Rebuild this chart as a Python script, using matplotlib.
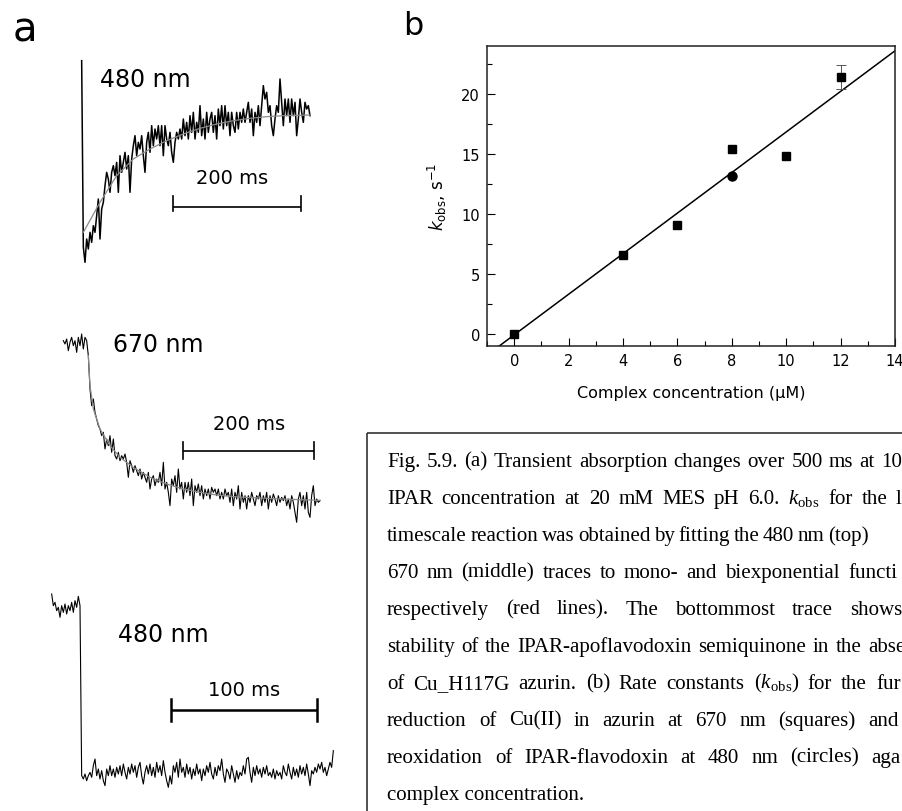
import matplotlib
matplotlib.use("Agg")
import matplotlib.pyplot as plt
from matplotlib.patches import Rectangle
from matplotlib.ticker import MultipleLocator

W, H = 903, 812

plt.rcParams['font.family'] = ['DejaVu Sans']
plt.rcParams['mathtext.fontset'] = 'custom'
plt.rcParams['mathtext.rm'] = 'Liberation Serif'
plt.rcParams['mathtext.it'] = 'Liberation Serif:italic'

# ---- panel b : kobs vs complex concentration ----
conc_sq = [0, 4, 6, 8, 10, 12]
kobs_sq = [0.0, 6.6, 9.1, 15.4, 14.8, 21.4]
kobs_err = [0, 0, 0, 0, 0, 1.0]
conc_circ = [8]
kobs_circ = [13.2]
fit_conc = [-0.55, 14.0]
fit_kobs = [-1.0, 23.6]

# ---- panel a : transient traces (signal in arbitrary units, one sample per ~1.7 px) ----
trace_480_top = [
    61.5, 5.5, 1.0, 8.0, 5.0, 10.0, 7.0, 12.0, 10.0, 15.0,
    20.0, 8.0, 17.0, 19.0, 24.0, 28.0, 26.0, 22.0, 28.0, 30.0,
    27.0, 31.0, 22.0, 33.0, 28.0, 31.0, 34.0, 29.0, 33.0, 22.0,
    32.0, 36.0, 39.0, 33.0, 37.0, 35.0, 39.0, 33.0, 28.0, 37.0,
    40.0, 34.0, 42.0, 36.0, 41.0, 38.0, 42.0, 36.0, 42.0, 33.0,
    42.0, 38.0, 36.0, 40.0, 34.0, 31.0, 37.0, 40.0, 38.0, 41.0,
    38.0, 44.0, 39.0, 43.0, 38.0, 45.0, 40.0, 46.0, 38.0, 43.0,
    40.0, 48.0, 39.0, 44.0, 38.0, 46.0, 40.0, 44.0, 46.0, 40.0,
    45.0, 38.0, 47.0, 42.0, 48.0, 41.0, 48.0, 42.0, 46.0, 39.0,
    46.0, 42.0, 40.0, 46.0, 41.0, 46.0, 43.0, 47.0, 43.0, 46.0,
    49.0, 43.0, 47.0, 39.0, 46.0, 43.0, 48.0, 42.0, 48.0, 54.0,
    50.0, 52.0, 46.0, 48.0, 42.0, 39.0, 44.0, 48.0, 46.0, 56.0,
    49.0, 42.0, 50.0, 45.0, 50.0, 43.0, 50.0, 45.0, 49.0, 39.0,
    44.0, 50.0, 46.0, 43.0, 49.0, 47.0, 48.0, 45.0]
fit_top_idx = [1, 11, 21, 31, 41, 51, 61, 71, 81, 91, 101, 111, 121, 137]
fit_top = [10, 19, 27, 32, 35, 37.5, 39.5, 41.2, 42.5, 43.5, 44.2, 44.7, 45.0, 45.2]
ms_per_sample_top = 2.6

trace_670 = [
    61.5, 60.5, 62, 58.5, 61, 62.5, 60, 61.5, 58, 62.5,
    60, 63.5, 59, 62.5, 61.5, 57, 47, 42, 44, 40,
    38, 36, 35, 33, 34, 29, 32, 30, 33, 28,
    32, 27, 26, 28, 25.5, 27, 26, 27.5, 25, 20.5,
    25.5, 24, 22, 24, 22.5, 21, 23, 20, 22, 20.5,
    19, 22, 17, 20, 21, 18, 20, 19, 22, 18,
    25, 17, 19, 16, 12, 20, 18, 21, 16, 23,
    17, 19, 14, 19, 16, 19, 15, 20, 12, 18,
    16, 18.5, 15, 18, 14, 17, 15, 17, 14, 17.5,
    16, 17, 15, 17, 14, 16, 14, 17, 15, 16,
    13, 17, 12, 16, 14, 18, 11, 16, 13, 15,
    11, 15, 13, 16, 14, 12, 15, 14, 16, 12,
    15, 13, 16, 11, 15, 13, 15.5, 14, 12, 15,
    13, 14.5, 13.5, 15, 12, 14, 11, 15, 13, 10,
    7, 14, 16, 12, 15, 11, 16, 10, 8.5, 15,
    18, 12, 14, 13, 13.5]
fit_670_idx = [15, 16, 18, 22, 28, 34, 42, 52, 62, 72, 82, 92, 102, 122, 142, 154]
fit_670 = [57, 48, 41, 35, 30, 26.5, 23.5, 20.5, 18.5, 17, 16, 15.2, 14.7, 14.2, 13.8, 13.6]
ms_per_sample_670 = 2.55

trace_480_bottom = [
    57.5, 54, 55, 52.5, 53.5, 50.5, 54, 52, 54.5, 51.5,
    54, 52.5, 55, 52, 55.5, 53.5, 56.8, 54, 3, 2,
    3.5, 1.5, 3, 4, 2.5, 6, 8, 3, 5, 2,
    4.5, 1.5, 0, 5, 3, 6, 3, 5, 2.5, 5.5,
    3.5, 6, 3, 6.5, 4, 2, 5.5, 3.5, 6.5, 4,
    6, 2.5, 5.5, 7, 3, 0.5, 4, 6, 3.5, 6.5,
    3, 5.5, 2.5, 7, 4, 6, 3, 7.5, 4, 1.5,
    -0.5, 3, 0.5, 6, 4, 7, 2.5, 8, 4, 5.5,
    2.5, 6.5, 3.5, 5.5, 2, 5, 3, 6.5, 3.5, 5,
    1.5, 5, 3, 6, 4, 7, 3.5, 2, 5.5, 3,
    6, 4.5, 8, 3.5, 1, 5, 4, 2, 6, 3.5,
    1, 4.5, 2, 4, 3, 6, 3.5, 8, 8.5, 4,
    1, 5.5, 3, 6, 3.5, 5, 2.5, 5.5, 3.5, 6,
    3, 4, 2.5, 5, 2, 4.5, 3, 4, 2, 6,
    4, 3, 6.5, 4, 2, 5.5, 3, 5, 2.5, 6,
    3.5, 5.5, 3, 6.5, 3.5, 0, 4.5, 3.5, 5.5, 4,
    6.5, 5, 7, 4, 5.5, 3, 5, 7, 5.5, 10.5]
ms_per_sample_bottom = 1.14

caption_lines = [
    "Fig. 5.9. (a) Transient absorption changes over 500 ms at 10",
    r"IPAR concentration at 20 mM MES pH 6.0. $k_{\mathrm{obs}}$ for the l",
    "timescale reaction was obtained by fitting the 480 nm (top)",
    "670 nm (middle) traces to mono- and biexponential functi",
    "respectively (red lines). The bottommost trace shows",
    "stability of the IPAR-apoflavodoxin semiquinone in the abse",
    r"of Cu_H117G azurin. (b) Rate constants ($k_{\mathrm{obs}}$) for the fur",
    "reduction of Cu(II) in azurin at 670 nm (squares) and",
    "reoxidation of IPAR-flavodoxin at 480 nm (circles) aga",
    "complex concentration.",
]
# x (px) where the last visible word of each justified line starts
caption_last_x = [881, 896, 828, 848, 850, 868, 876, 868, 871, None]

fig = plt.figure(figsize=(W / 100, H / 100), dpi=100)


def px_axes(left, right, top, bottom):
    return fig.add_axes([left / W, 1 - bottom / H, (right - left) / W, (bottom - top) / H])


def trace_axes(x0, y0, xlim, ylim, sx=5 / 3, sy=10 / 3):
    ax = px_axes(x0 + sx * xlim[0], x0 + sx * xlim[1], y0 - sy * ylim[1], y0 - sy * ylim[0])
    ax.set_xlim(xlim)
    ax.set_ylim(ylim)
    ax.axis('off')
    return ax


def scale_bar(ax, x_start, length, y, tick_lo, tick_hi, label, lx, ly, lw=1.2):
    x_end = x_start + length
    ax.plot([x_start, x_end], [y, y], color='black', lw=lw, solid_capstyle='butt')
    ax.plot([x_start, x_start], [tick_lo, tick_hi], color='black', lw=lw)
    ax.plot([x_end, x_end], [tick_lo, tick_hi], color='black', lw=lw)
    ax.text(lx, ly, label, fontsize=14, ha='center', va='center')


# top 480 nm trace
ax1 = trace_axes(245 / 3, 800 / 3, (-15, 165), (-5, 70))
ax1.plot(trace_480_top, color='black', lw=1.1)
ax1.plot(fit_top_idx, fit_top, color='#8a8a8a', lw=0.9)
ax1.text(11, 56, '480 nm', fontsize=17, va='center')
scale_bar(ax1, 54.6, 200 / ms_per_sample_top, 17.5, 16.5, 21, '200 ms', 90, 26.5)

# 670 nm trace
ax2 = trace_axes(190 / 3, 280 + 800 / 3, (-10, 165), (-5, 70))
ax2.plot(trace_670, color='black', lw=0.8)
ax2.plot(fit_670_idx, fit_670, color='#8a8a8a', lw=0.9)
ax2.text(30, 60.5, '670 nm', fontsize=17, va='center')
scale_bar(ax2, 72, 200 / ms_per_sample_670, 28.5, 26, 31, '200 ms', 111.6, 36.5)

# bottom 480 nm trace
ax3 = trace_axes(155 / 3, 520 + 800 / 3, (-10, 180), (-5, 70))
ax3.plot(trace_480_bottom, color='black', lw=0.8)
ax3.text(40, 45.5, '480 nm', fontsize=17, va='center')
scale_bar(ax3, 71.4, 100 / ms_per_sample_bottom, 22.8, 19.5, 26, '100 ms', 115.6, 28.8, lw=1.8)

# panel b
axb = px_axes(487, 895, 47, 347)
axb.plot(fit_conc, fit_kobs, color='black', lw=1.1)
axb.errorbar(conc_sq[5:], kobs_sq[5:], yerr=kobs_err[5:], fmt='none', ecolor='#555555',
             elinewidth=0.7, capsize=3.5, capthick=0.7)
axb.plot(conc_sq, kobs_sq, 's', color='black', ms=6)
axb.plot(conc_circ, kobs_circ, 'o', color='black', ms=6.5)
axb.set_xlim(-1, 14)
axb.set_ylim(-1, 24)
axb.xaxis.set_major_locator(MultipleLocator(2))
axb.xaxis.set_minor_locator(MultipleLocator(1))
axb.yaxis.set_major_locator(MultipleLocator(5))
axb.yaxis.set_minor_locator(MultipleLocator(2.5))
axb.tick_params(which='both', direction='in', top=False, right=False, labelsize=10.5, width=0.8)
axb.tick_params(which='major', length=6, pad=5)
axb.tick_params(which='minor', length=3.5)
for sp in axb.spines.values():
    sp.set_linewidth(1.1)
    sp.set_color('#222222')
axb.set_xlabel('Complex concentration (μM)', fontsize=11.5, labelpad=12)
axb.set_ylabel(r'$k_{\mathrm{obs}}$, s$^{-1}$', fontsize=12, labelpad=9,
               math_fontfamily='dejavusans')

# overlay in pixel coordinates for panel letters and caption
cap = px_axes(0, W, 0, H)
cap.set_xlim(0, W)
cap.set_ylim(H, 0)
cap.axis('off')
cap.text(13, 42, 'a', fontsize=29, va='baseline')
cap.text(403, 35, 'b', fontsize=23, va='baseline')
cap.add_patch(Rectangle((367, 434), 700, 600, fill=False, lw=1.2, ec='#333333'))

renderer = fig.canvas.get_renderer()
probe = cap.text(0, 0, caption_lines[-1], fontsize=15, family='Liberation Serif')
cap_size = 15 * 198 / probe.get_window_extent(renderer).width
probe.remove()

for k, (line, x_last) in enumerate(zip(caption_lines, caption_last_x)):
    y = 466.7 + 37 * k
    if x_last is None:
        cap.text(387, y, line, fontsize=cap_size, family='Liberation Serif', va='baseline')
        continue
    words = line.split(' ')
    texts = [cap.text(0, y, w, fontsize=cap_size, family='Liberation Serif', va='baseline')
             for w in words]
    widths = [t.get_window_extent(renderer).width for t in texts]
    gap = (x_last - 387 - sum(widths[:-1])) / (len(words) - 1)
    x = 387
    for t, w in zip(texts, widths):
        t.set_x(x)
        x += w + gap

fig.savefig('out.png', dpi=100)
